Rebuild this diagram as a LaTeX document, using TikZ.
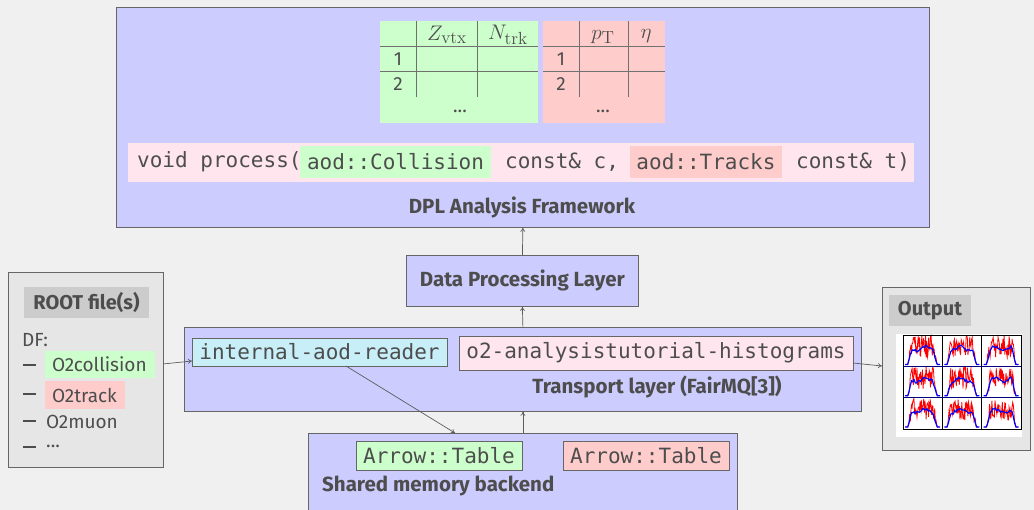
\documentclass[tikz,border=0pt]{standalone}
\usepackage[no-math]{fontspec}
\setmainfont{Fira Sans}
\setmonofont{DejaVu Sans Mono}
\usetikzlibrary{arrows.meta}
\definecolor{bg}{HTML}{F0F0F0}
\definecolor{lav}{HTML}{CCCCFF}
\definecolor{grn}{HTML}{CCFFCC}
\definecolor{rd}{HTML}{FFCCCC}
\definecolor{pnk}{HTML}{FFE6EE}
\definecolor{cyn}{HTML}{C8EEF8}
\definecolor{txt}{HTML}{4D4D4D}
\definecolor{edge}{HTML}{666666}
\definecolor{lg}{HTML}{E6E6E6}
\definecolor{mg}{HTML}{CCCCCC}
\definecolor{grid}{HTML}{707070}
\begin{document}
\begin{tikzpicture}[x=1pt,y=-1pt,
  every node/.style={text=txt, font=\fontsize{19}{21}\selectfont},
  frame/.style={draw=edge, line width=0.8pt, fill=lav, inner sep=0pt, anchor=north west},
  greybox/.style={draw=edge, line width=0.8pt, fill=lg, inner sep=0pt, anchor=north west},
  headbox/.style={fill=mg, inner sep=0pt, font=\fontsize{20}{22}\selectfont\bfseries},
  bold/.style={font=\fontsize{20.5}{22}\selectfont\bfseries},
  mono/.style={font=\fontsize{21}{24}\selectfont\ttfamily, inner sep=0pt},
  mathlab/.style={inner sep=0pt},
  hl/.style={mono, minimum height=#1, draw=edge, line width=0.6pt},
  flat/.style={mono, minimum height=32pt},
  item/.style={inner sep=0pt, anchor=west},
  dashmark/.style={fill=txt, minimum width=13pt, minimum height=1.5pt, inner sep=0pt, anchor=west},
  arr/.style={draw=edge!90!black, line width=0.7pt, -{To[length=4pt,width=5pt]}},
]
\useasboundingbox (0,0) rectangle (1034,510);
\fill[bg] (0,0) rectangle (1034,510);

% ---------- DPL Analysis Framework ----------
\node[frame, minimum width=813pt, minimum height=220pt] (dpl) at (116,7) {};
% tables
\fill[grn] (380,21) rectangle (538,123);
\fill[rd] (543,21) rectangle (665,123);
\begin{scope}[draw=grid, line width=0.6pt]
  \draw (416,21) -- (416,97) (477,21) -- (477,97);
  \draw (380,46.5) -- (538,46.5) (380,71.5) -- (538,71.5);
  \draw (579,21) -- (579,97) (628,21) -- (628,97);
  \draw (543,46.5) -- (665,46.5) (543,71.5) -- (665,71.5);
\end{scope}
\node[mathlab] (gz) at (447,35) {\scalebox{1.22}{$Z_{\mathrm{vtx}}$}};
\node[mathlab] (gn) at (508,35) {\scalebox{1.22}{$N_{\mathrm{trk}}$}};
\node (g1) at (398,59) {1};
\node (g2) at (398,84) {2};
\node (gd) at (460,111) {...};
\node[mathlab] (rp) at (603,37) {\scalebox{1.22}{$p_{\mathrm{T}}$}};
\node[mathlab] (re) at (646,36) {\scalebox{1.22}{$\eta$}};
\node (r1) at (561,59) {1};
\node (r2) at (561,84) {2};
\node (rdots) at (603,111) {...};
% process line
\node[fill=pnk, minimum width=786pt, minimum height=39pt, inner sep=0pt, anchor=north west] (proc) at (128,143) {};
\node[mono, anchor=west] (p1) at (137,162) {void process(};
\node[flat, fill=grn, minimum width=191pt] (pcol) at (395.5,162) {aod::Collision};
\node[mono, anchor=west] (p2) at (505,162) {const\& c,};
\node[flat, fill=rd, minimum width=152pt] (ptrk) at (706,162) {aod::Tracks};
\node[mono, anchor=west] (p3) at (796,162) {const\& t)};
\node[bold] (dpllab) at (522,207) {DPL Analysis Framework};

% ---------- Data Processing Layer ----------
\node[frame, minimum width=232pt, minimum height=51pt] (dpll) at (406,255) {};
\node[bold] (dplllab) at (dpll.center) {Data Processing Layer};

% ---------- Transport layer ----------
\node[frame, minimum width=677pt, minimum height=84pt] (trans) at (184,327) {};
\node[hl=28pt, fill=cyn, minimum width=255pt] (reader) at (319.5,352) {internal-aod-reader};
\node[hl=34pt, fill=pnk, minimum width=394pt] (o2) at (656,353) {o2-analysistutorial-histograms};
\node[bold] (translab) at (657,387) {Transport layer (FairMQ[3])};

% ---------- Shared memory ----------
\node[frame, minimum width=429pt, minimum height=85pt] (shm) at (308,433) {};
\node[hl=29pt, fill=grn, minimum width=166pt] (tg) at (439,455.5) {Arrow::Table};
\node[hl=29pt, fill=rd, minimum width=166pt] (tr) at (646,455.5) {Arrow::Table};
\node[bold, anchor=west, inner sep=0pt] (shmlab) at (322,486) {Shared memory backend};

% ---------- ROOT files ----------
\node[greybox, minimum width=155pt, minimum height=195pt] (root) at (8,272) {};
\node[headbox, minimum width=125pt, minimum height=31pt] (roothead) at (86.5,302.5) {ROOT file(s)};
\node[item] (df) at (22,340) {DF:};
\node[dashmark] (d1) at (23,365) {};
\node[dashmark] (d2) at (23,394) {};
\node[dashmark] (d3) at (23,421) {};
\node[dashmark] (d4) at (23,447) {};
\node[item, fill=grn, minimum height=27pt] (o2c) at (45,364.5) {\hspace*{7pt}O2collision\hspace*{8pt}};
\node[item, fill=rd, minimum height=28pt] (o2t) at (45,395) {\hspace*{7pt}O2track\hspace*{8pt}};
\node[item] (o2m) at (46,422) {O2muon};
\node[item] (o2d) at (46,446) {...};

% ---------- Output ----------
\node[greybox, minimum width=148pt, minimum height=163pt] (out) at (882,287) {};
\node[headbox, minimum width=82pt, minimum height=31pt] (outhead) at (930,311) {Output};
\node[fill=white, inner sep=0pt, minimum width=126pt, minimum height=103pt, anchor=north west] (img) at (896,334) {};
\pgfmathsetseed{7}
\foreach \c in {0,1,2}{
  \foreach \r in {0,1,2}{
    \begin{scope}[shift={(903+39.3*\c,335+31.3*\r)}]
      \clip (0,0) rectangle (39.3,31.3);
      \draw[red, line width=0.8pt] plot[domain=3:36, samples=55]
        (\x, {29.5 - min(1,max(0,(\x-5)/3))*min(1,max(0,(34-\x)/3))*(18 + 11*rand)});
      \draw[blue, line width=1.2pt] plot[domain=2:37, samples=28]
        (\x, {29.5 - min(1,max(0,(\x-5)/4))*min(1,max(0,(34-\x)/4))*(16 + 1.5*rand + 2*sin(\x*20+\c*90))});
    \end{scope}
  }
}
\begin{scope}[line width=0.8pt]
  \draw (903,335) rectangle (1021,429);
  \draw (942.3,335) -- (942.3,429) (981.6,335) -- (981.6,429);
  \draw[blue!50!black] (903,366.3) -- (1021,366.3) (903,397.6) -- (1021,397.6);
\end{scope}

% ---------- connectors ----------
\draw[arr] (dpll.north) -- (dpl.south);
\draw[arr] (trans.north) -- (dpll.south);
\draw[arr] (shm.north) -- (trans.south);
\coordinate (rootout) at (163,364);
\coordinate (readin) at (192,361);
\draw[arr] (rootout) -- (readin);
\coordinate (readout) at (346,366);
\coordinate (shmin) at (455,433);
\draw[arr] (readout) -- (shmin);
\coordinate (o2out) at (853,363);
\coordinate (outin) at (882,366);
\draw[arr] (o2out) -- (outin);
\end{tikzpicture}
\end{document}
